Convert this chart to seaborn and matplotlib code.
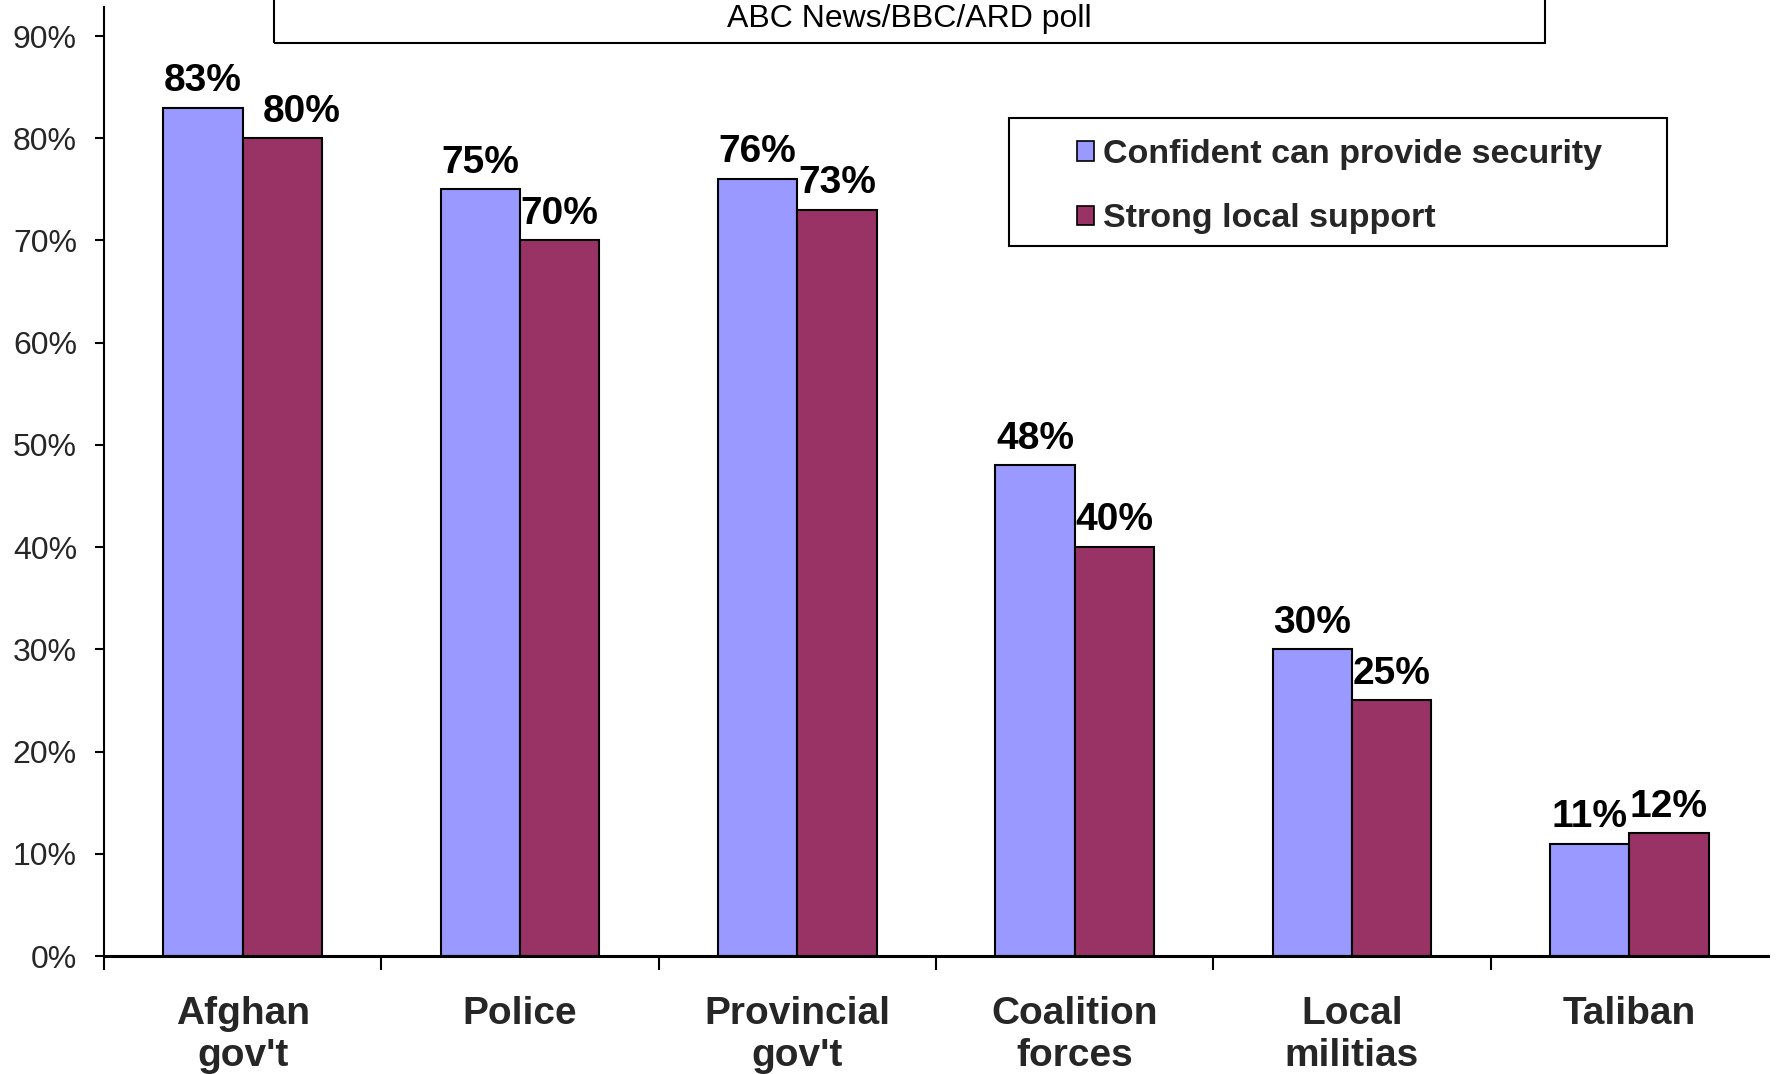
import matplotlib
matplotlib.use("Agg")
import matplotlib.pyplot as plt
from matplotlib.patches import Rectangle, Patch
import seaborn as sns
import numpy as np
import pandas as pd

# chart data
categories = ["Afghan\ngov't", "Police", "Provincial\ngov't", "Coalition\nforces", "Local\nmilitias", "Taliban"]
series_names = ["Confident can provide security", "Strong local support"]
confident = [83, 75, 76, 48, 30, 11]
local_support = [80, 70, 73, 40, 25, 12]
y_ticks = [0, 10, 20, 30, 40, 50, 60, 70, 80, 90]
title_text = "ABC News/BBC/ARD poll"

colors = ["#9999FF", "#993366"]

sns.set_theme(style="white")
plt.rcParams["font.family"] = ["Liberation Sans", "DejaVu Sans"]

df = pd.DataFrame({
    "category": categories * 2,
    "value": confident + local_support,
    "series": [series_names[0]] * len(categories) + [series_names[1]] * len(categories),
})

W, H = 1777, 1074
fig = plt.figure(figsize=(W / 100, H / 100), dpi=100)
ax = fig.add_axes([104 / W, 1 - 956 / H, (1768 - 104) / W, (956 - 7) / H])

sns.barplot(data=df, x="category", y="value", hue="series", palette=colors,
            width=0.572, edgecolor="black", linewidth=1.5, saturation=1,
            order=categories, hue_order=series_names, ax=ax, legend=False)

ax.set_xlim(-0.5, len(categories) - 0.5)
ax.set_ylim(0, 92.84)
ax.set_xlabel("")
ax.set_ylabel("")

# value labels above bars
for i, container in enumerate(ax.containers):
    for j, bar in enumerate(container):
        val = bar.get_height()
        dx = 14 if (i == 1 and j == 0) else 0
        ax.annotate(f"{val:.0f}%", (bar.get_x() + bar.get_width() / 2, val),
                    xytext=(dx, 12), textcoords="offset points",
                    ha="center", va="baseline", fontsize=28, fontweight="bold",
                    color="black")

# axes styling
for s in ["top", "right"]:
    ax.spines[s].set_visible(False)
ax.spines["left"].set_color("black")
ax.spines["left"].set_linewidth(1.5)
ax.spines["bottom"].set_color("black")
ax.spines["bottom"].set_linewidth(2.2)

ax.set_yticks(y_ticks)
ax.set_yticklabels([f"{t}%" for t in y_ticks], fontsize=23)
ax.tick_params(axis="y", direction="out", length=6.5, width=1.5, color="black",
               pad=13, left=True)

ax.set_xticks(range(len(categories)))
ax.set_xticklabels(categories, fontsize=28, fontweight="bold", linespacing=1.2)
ax.tick_params(axis="x", which="major", length=0, pad=29)
ax.set_xticks(np.arange(-0.5, len(categories) - 1, 1), minor=True)
ax.tick_params(axis="x", which="minor", direction="out", length=10, width=1.5,
               color="black", bottom=True)
ax.grid(False)

# title box (cut by top edge)
fig.add_artist(Rectangle((274 / W, 1 - 43 / H), (1545 - 274) / W, 0.1,
                         transform=fig.transFigure, fill=False,
                         edgecolor="black", linewidth=1.5, clip_on=False))
fig.text(909.5 / W, 1 - 27 / H, title_text, ha="center", va="baseline",
         fontsize=23, color="black")

# legend
fig.add_artist(Rectangle((1009 / W, 1 - 246 / H), (1667 - 1009) / W, 128 / H,
                         transform=fig.transFigure, fill=False,
                         edgecolor="black", linewidth=1.5))
handles = [Patch(facecolor=c, edgecolor="black", linewidth=1.2) for c in colors]
fig.legend(handles, series_names, loc="upper left",
           bbox_to_anchor=(1077 / W, 1 - 139 / H), bbox_transform=fig.transFigure,
           frameon=False, prop={"size": 24.5, "weight": "bold"},
           handlelength=0.5, handleheight=0.5, handletextpad=0.25,
           labelspacing=0.98, borderpad=0, borderaxespad=0)

fig.savefig("out.png", dpi=100)
